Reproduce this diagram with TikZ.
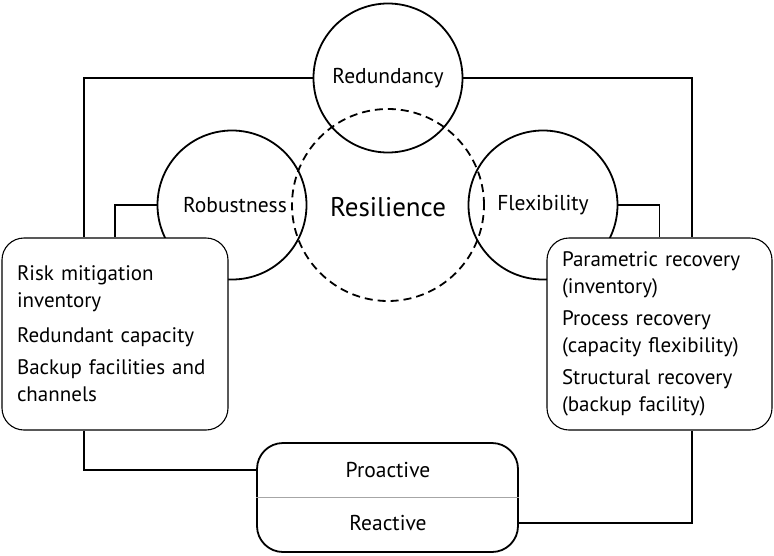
\documentclass[tikz,border=0pt]{standalone}
\usepackage{fontspec}
\setmainfont{PT Sans}
\begin{document}
\begin{tikzpicture}[x=1pt,y=-1pt,
  circ/.style={draw,circle,line width=1.8pt,minimum size=149pt,inner sep=0pt,font=\fontsize{21.5}{24}\selectfont},
  conn/.style={line width=1.8pt},
  infobox/.style={draw,fill=white,rounded corners=22pt,line width=1.1pt,minimum width=226pt,minimum height=192pt,align=left,inner xsep=15pt,inner ysep=0pt,text width=196pt,font=\fontsize{21}{27}\selectfont},
  lbl/.style={font=\fontsize{21.5}{24}\selectfont,inner sep=0pt}]
\useasboundingbox (0,0) rectangle (774,555);
\node[circ] (red) at (388,78) {Redundancy};
\node[circ] (rob) at (232,205) {\hspace*{6pt}Robustness};
\node[circ] (flex) at (543,205) {Flexibility};
\node[draw,circle,dashed,dash pattern=on 8pt off 5pt,line width=1.8pt,minimum size=192pt,inner sep=0pt] (res) at (388,205) {};
\node[font=\fontsize{27}{30}\selectfont,inner sep=0pt] (restxt) at (388,207) {Resilience};
\node[infobox] (lbox) at (115,334) {Risk mitigation\\inventory\\[8pt]Redundant capacity\\[5pt]Backup facilities and\\channels};
\node[infobox,minimum width=225pt,text width=195pt] (rbox) at (659.5,334) {Parametric recovery\\(inventory)\\[5pt]Process recovery\\(capacity flexibility)\\[5pt]Structural recovery\\(backup facility)};
\node[draw,fill=white,rounded corners=26pt,line width=1.8pt,minimum width=261pt,minimum height=109pt,inner sep=0pt] (pr) at (387.5,497.5) {};
\draw[gray!70,line width=0.8pt] (pr.west) -- (pr.east);
\node[lbl] (pa) at (388,470) {Proactive};
\node[lbl] (re) at (388,523) {Reactive};
\coordinate (tl) at (84,78);
\coordinate (tr) at (692,78);
\draw[conn] (red.west) -- (tl) -- (tl |- lbox.north);
\draw[conn] (tl |- lbox.south) |- (pa.west -| pr.west);
\draw[conn] (red.east) -- (tr) -- (tr |- rbox.north);
\draw[conn] (tr |- rbox.south) |- (re.east -| pr.east);
\draw[conn] (rob.west) -| (lbox.north);
\draw[conn] (flex.east) -| (rbox.north);
\end{tikzpicture}
\end{document}
